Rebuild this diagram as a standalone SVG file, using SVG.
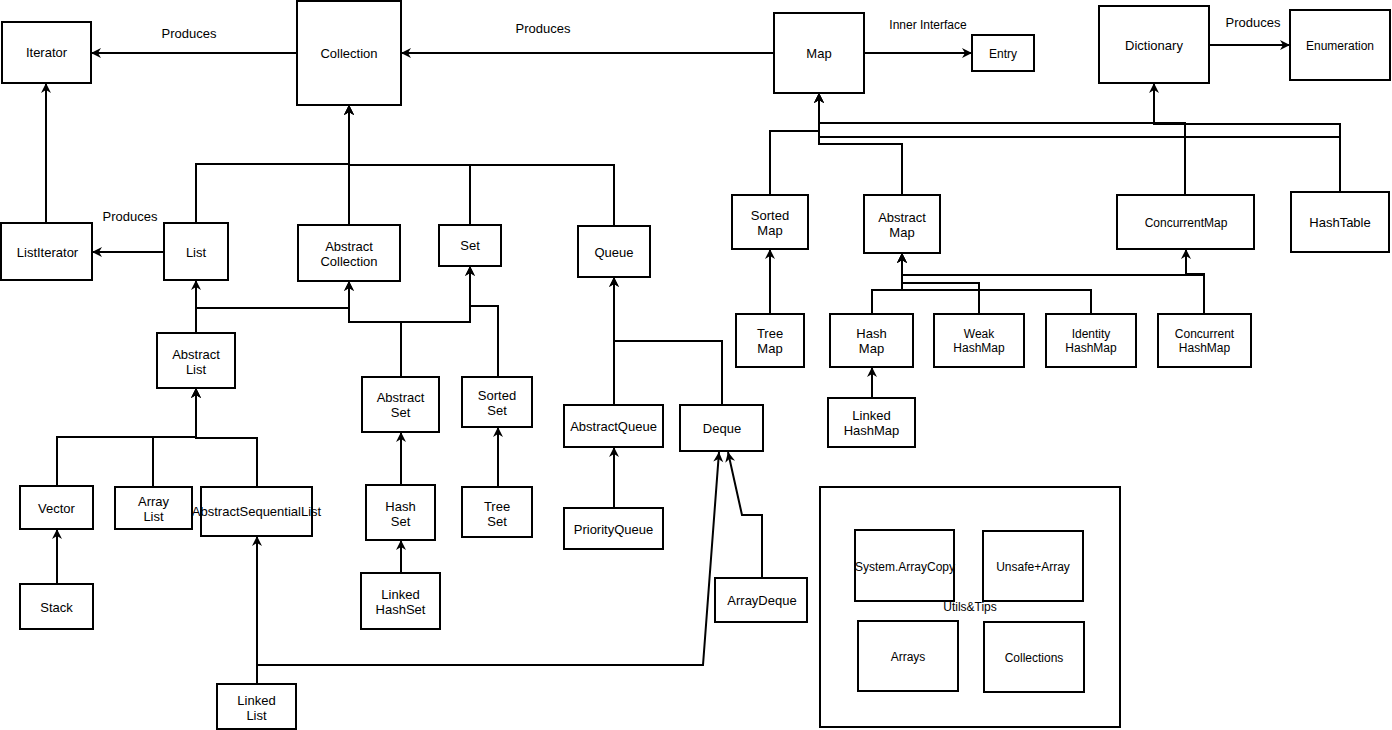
<svg xmlns="http://www.w3.org/2000/svg" width="1392" height="730" viewBox="0 0 1392 730">
<style>
.n rect{fill:#fff;stroke:#000;stroke-width:2}
text{font-family:'Liberation Sans',Arial,sans-serif;font-size:13px;text-anchor:middle;fill:#000}
.s{font-size:12px}
#edges path{fill:none;stroke:#000;stroke-width:2;marker-end:url(#a)}
</style>
<defs>
<marker id="a" markerUnits="userSpaceOnUse" markerWidth="12" markerHeight="12" viewBox="0 0 12 12" refX="11" refY="6" orient="auto">
<path d="M1,1 L11,6 L1,11 L4,6 Z" fill="#000"/>
</marker>
</defs>
<rect width="1392" height="730" fill="#fff"/>
<g id="edges">
<path d="M297,53 H91"/>
<path d="M774,53 H401"/>
<path d="M864,53 H972"/>
<path d="M1209,45 H1290"/>
<path d="M46,223 V83"/>
<path d="M164,252 H92"/>
<path d="M196,223 V164 H349 V105"/>
<path d="M349,225 V105"/>
<path d="M470,225 V165 H349 V105"/>
<path d="M614,226 V165 H349 V105"/>
<path d="M196,333 V280"/>
<path d="M196,333 V308 H349 V281"/>
<path d="M401,377 V322 H349 V281"/>
<path d="M401,377 V322 H470 V266"/>
<path d="M498,377 V306 H470 V266"/>
<path d="M401,485 V432"/>
<path d="M401,573 V540"/>
<path d="M498,487 V427"/>
<path d="M57,486 V437 H196 V388"/>
<path d="M153,487 V437 H196 V388"/>
<path d="M257,487 V438 H196 V388"/>
<path d="M57,584 V529"/>
<path d="M257,684 V536"/>
<path d="M257,684 V665 H703 L719,452"/>
<path d="M762,578 V515 H742 L728,452"/>
<path d="M614,405 V277"/>
<path d="M722,405 V341 H614 V277"/>
<path d="M614,508 V447"/>
<path d="M770,194 V131 H819 V93"/>
<path d="M902,195 V144 H819 V93"/>
<path d="M1185,195 V123 H819 V93"/>
<path d="M1340,192 V124 H1154 V83"/>
<path d="M1340,192 V137 H819 V93"/>
<path d="M770,314 V249"/>
<path d="M872,314 V290 H902 V253"/>
<path d="M979,314 V283 H902 V253"/>
<path d="M1091,314 V290 H902 V253"/>
<path d="M1204,314 V274 H1186 V249"/>
<path d="M1204,314 V275 H902 V253"/>
<path d="M872,398 V367"/>
</g>
<g id="edge-labels">
<text x="189" y="38">Produces</text>
<text x="543" y="33">Produces</text>
<text x="928" y="29" class="s">Inner Interface</text>
<text x="1253" y="27">Produces</text>
<text x="130" y="221">Produces</text>
</g>
<g id="iterator" class="n"><rect x="2" y="22" width="89" height="61"/><text x="46.5" y="57">Iterator</text></g>
<g id="collection" class="n"><rect x="297" y="1" width="104" height="104"/><text x="349" y="58">Collection</text></g>
<g id="listiterator" class="n"><rect x="1" y="223" width="91" height="57"/><text x="47.5" y="257">ListIterator</text></g>
<g id="list" class="n"><rect x="164" y="223" width="64" height="57"/><text x="196" y="257">List</text></g>
<g id="abstractcollection" class="n"><rect x="298" y="225" width="102" height="56"/><text x="349" y="251">Abstract</text><text x="349" y="266">Collection</text></g>
<g id="set" class="n"><rect x="439" y="225" width="62" height="41"/><text x="470" y="250">Set</text></g>
<g id="queue" class="n"><rect x="578" y="226" width="72" height="51"/><text x="614" y="257">Queue</text></g>
<g id="map" class="n"><rect x="774" y="13" width="90" height="80"/><text x="819" y="58">Map</text></g>
<g id="entry" class="n"><rect x="972" y="35" width="62" height="36"/><text x="1003" y="58" class="s">Entry</text></g>
<g id="dictionary" class="n"><rect x="1099" y="6" width="110" height="77"/><text x="1154" y="50">Dictionary</text></g>
<g id="enumeration" class="n"><rect x="1290" y="10" width="100" height="70"/><text x="1340" y="50" class="s">Enumeration</text></g>
<g id="sortedmap" class="n"><rect x="732" y="195" width="76" height="54"/><text x="770" y="220">Sorted</text><text x="770" y="235">Map</text></g>
<g id="abstractmap" class="n"><rect x="864" y="195" width="76" height="58"/><text x="902" y="222">Abstract</text><text x="902" y="237">Map</text></g>
<g id="concurrentmap" class="n"><rect x="1117" y="195" width="137" height="54"/><text x="1186" y="227" class="s">ConcurrentMap</text></g>
<g id="hashtable" class="n"><rect x="1291" y="192" width="98" height="60"/><text x="1340" y="227">HashTable</text></g>
<g id="treemap" class="n"><rect x="736" y="314" width="68" height="53"/><text x="770" y="338">Tree</text><text x="770" y="353">Map</text></g>
<g id="hashmap" class="n"><rect x="830" y="314" width="83" height="53"/><text x="871.5" y="338">Hash</text><text x="871.5" y="353">Map</text></g>
<g id="weakhashmap" class="n"><rect x="934" y="314" width="90" height="53"/><text x="979" y="338" class="s">Weak</text><text x="979" y="352" class="s">HashMap</text></g>
<g id="identityhashmap" class="n"><rect x="1046" y="314" width="90" height="53"/><text x="1091" y="338" class="s">Identity</text><text x="1091" y="352" class="s">HashMap</text></g>
<g id="concurrenthashmap" class="n"><rect x="1158" y="314" width="93" height="53"/><text x="1204.5" y="338" class="s">Concurrent</text><text x="1204.5" y="352" class="s">HashMap</text></g>
<g id="linkedhashmap" class="n"><rect x="828" y="398" width="87" height="49"/><text x="871.5" y="420">Linked</text><text x="871.5" y="435">HashMap</text></g>
<g id="abstractlist" class="n"><rect x="157" y="333" width="78" height="55"/><text x="196" y="359">Abstract</text><text x="196" y="374">List</text></g>
<g id="vector" class="n"><rect x="20" y="486" width="73" height="43"/><text x="56.5" y="513">Vector</text></g>
<g id="arraylist" class="n"><rect x="115" y="487" width="77" height="42"/><text x="153.5" y="506">Array</text><text x="153.5" y="521">List</text></g>
<g id="abstractsequentiallist" class="n"><rect x="201" y="487" width="111" height="49"/><text x="256.5" y="516">AbstractSequentialList</text></g>
<g id="stack" class="n"><rect x="20" y="584" width="73" height="45"/><text x="56.5" y="612">Stack</text></g>
<g id="abstractset" class="n"><rect x="362" y="377" width="77" height="55"/><text x="400.5" y="402">Abstract</text><text x="400.5" y="417">Set</text></g>
<g id="hashset" class="n"><rect x="366" y="485" width="69" height="55"/><text x="400.5" y="511">Hash</text><text x="400.5" y="526">Set</text></g>
<g id="linkedhashset" class="n"><rect x="361" y="573" width="79" height="56"/><text x="400.5" y="599">Linked</text><text x="400.5" y="614">HashSet</text></g>
<g id="linkedlist" class="n"><rect x="217" y="684" width="79" height="45"/><text x="256.5" y="705">Linked</text><text x="256.5" y="720">List</text></g>
<g id="sortedset" class="n"><rect x="462" y="377" width="70" height="50"/><text x="497" y="400">Sorted</text><text x="497" y="415">Set</text></g>
<g id="treeset" class="n"><rect x="462" y="487" width="70" height="50"/><text x="497" y="511">Tree</text><text x="497" y="526">Set</text></g>
<g id="abstractqueue" class="n"><rect x="564" y="405" width="99" height="42"/><text x="613.5" y="431">AbstractQueue</text></g>
<g id="priorityqueue" class="n"><rect x="564" y="508" width="99" height="41"/><text x="613.5" y="534">PriorityQueue</text></g>
<g id="deque" class="n"><rect x="680" y="405" width="83" height="46"/><text x="722" y="433">Deque</text></g>
<g id="arraydeque" class="n"><rect x="715" y="578" width="92" height="44"/><text x="762" y="605">ArrayDeque</text></g>
<g id="utils" class="n"><rect x="820" y="487" width="300" height="240"/><text x="970" y="611" class="s">Utils&amp;Tips</text></g>
<g id="systemarraycopy" class="n"><rect x="855" y="530" width="99" height="71"/><text x="905" y="571" class="s">System.ArrayCopy</text></g>
<g id="unsafearray" class="n"><rect x="983" y="531" width="100" height="70"/><text x="1033" y="571" class="s">Unsafe+Array</text></g>
<g id="arrays" class="n"><rect x="858" y="621" width="100" height="70"/><text x="908" y="661" class="s">Arrays</text></g>
<g id="collections" class="n"><rect x="984" y="622" width="100" height="70"/><text x="1034" y="662" class="s">Collections</text></g>
</svg>
